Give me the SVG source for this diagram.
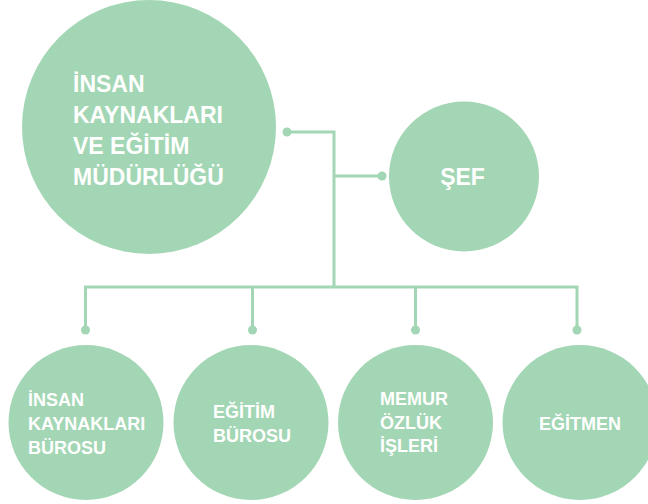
<svg xmlns="http://www.w3.org/2000/svg" width="648" height="504" viewBox="0 0 648 504">
<style>
.n{fill:#a3d6b4}
.t{fill:#fff;font-family:"Liberation Sans",Arial,sans-serif;font-weight:bold}
.big{font-size:23px}
.sm{font-size:18px}
.c{stroke:#a3d6b4;stroke-width:3;fill:none}
.d{fill:#a3d6b4}
</style>
<rect width="648" height="504" fill="#fff"/>
<g id="connectors">
<polyline class="c" points="287,132 334,132 334,287"/>
<line class="c" x1="334" y1="176" x2="382" y2="176"/>
<polyline class="c" points="85.5,330 85.5,287 577,287 577,330"/>
<line class="c" x1="252.5" y1="287" x2="252.5" y2="330"/>
<line class="c" x1="415.5" y1="287" x2="415.5" y2="330"/>
<circle class="d" cx="287" cy="132" r="4.5"/>
<circle class="d" cx="382" cy="176" r="4.5"/>
<circle class="d" cx="85.5" cy="330" r="4.5"/>
<circle class="d" cx="252.5" cy="330" r="4.5"/>
<circle class="d" cx="415.5" cy="330" r="4.5"/>
<circle class="d" cx="577" cy="330" r="4.5"/>
</g>
<g id="mudurluk">
<circle class="n" cx="149" cy="127" r="127"/>
<text class="t big" x="73" y="92">İNSAN</text>
<text class="t big" x="73" y="123">KAYNAKLARI</text>
<text class="t big" x="73" y="154">VE EĞİTİM</text>
<text class="t big" x="73" y="185">MÜDÜRLÜĞÜ</text>
</g>
<g id="sef">
<circle class="n" cx="464" cy="176.5" r="75"/>
<text class="t big" x="462.5" y="185" text-anchor="middle">ŞEF</text>
</g>
<g id="ik-burosu">
<circle class="n" cx="86" cy="422.5" r="77.5"/>
<text class="t sm" x="28" y="406">İNSAN</text>
<text class="t sm" x="28" y="430">KAYNAKLARI</text>
<text class="t sm" x="28" y="454">BÜROSU</text>
</g>
<g id="egitim-burosu">
<circle class="n" cx="251" cy="422.5" r="77.5"/>
<text class="t sm" x="213" y="418">EĞİTİM</text>
<text class="t sm" x="213" y="442">BÜROSU</text>
</g>
<g id="memur-ozluk">
<circle class="n" cx="415.5" cy="422.5" r="77.5"/>
<text class="t sm" x="380" y="405">MEMUR</text>
<text class="t sm" x="380" y="429">ÖZLÜK</text>
<text class="t sm" x="380" y="452">İŞLERİ</text>
</g>
<g id="egitmen">
<circle class="n" cx="580" cy="422.5" r="77.5"/>
<text class="t sm" x="580" y="430" text-anchor="middle">EĞİTMEN</text>
</g>
</svg>
